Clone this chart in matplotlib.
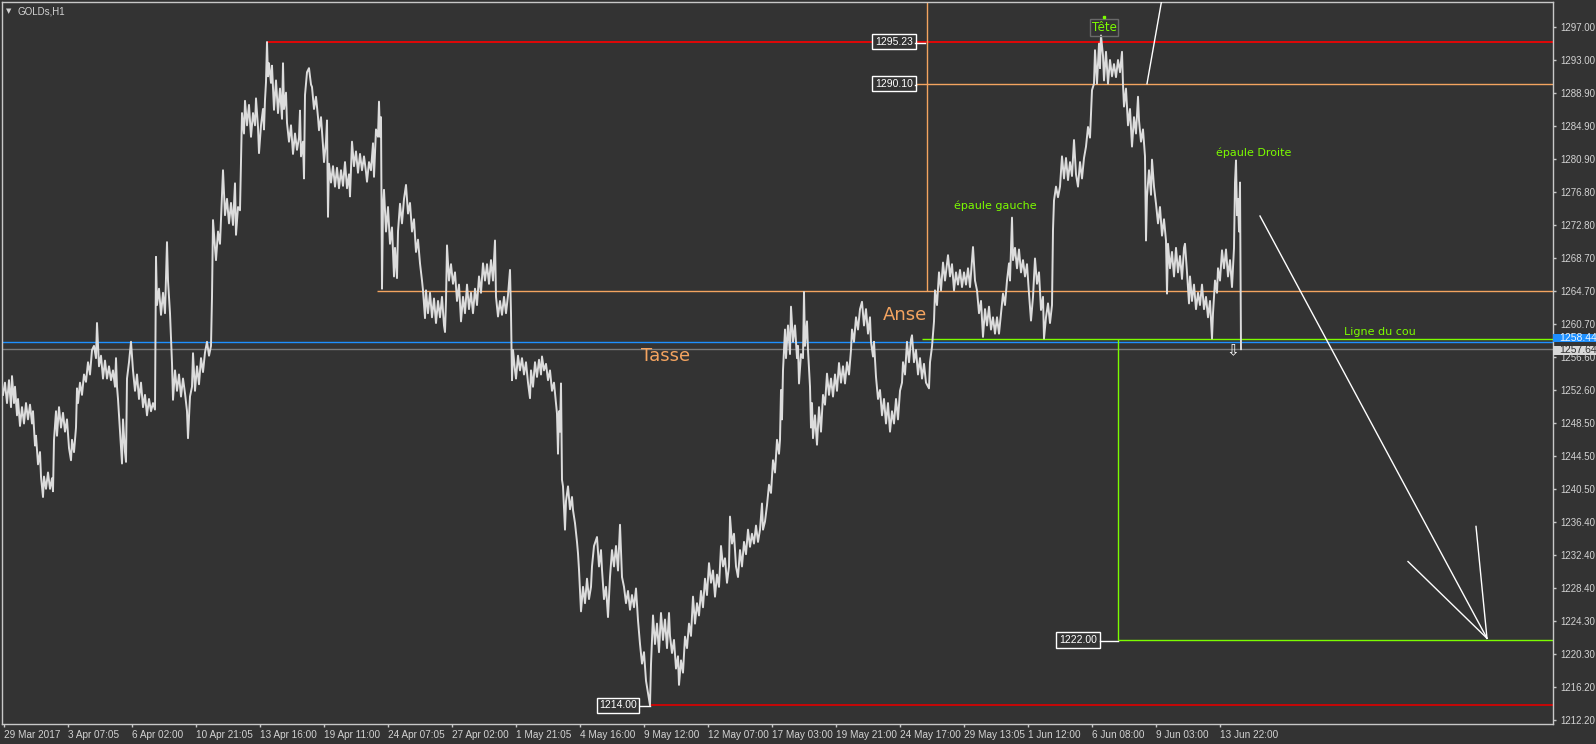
import matplotlib
matplotlib.use('Agg')
from matplotlib import pyplot as plt  # noqa
from matplotlib.patches import Rectangle  # noqa

W, H = 1596, 744
BG = '#333333'
PX_PER_USD = 8.169  # vertical scale of the chart, used only for box sizes

# price path (bar index, price), split by period
path_mar_apr = [
    (3, 1252), (5, 1253.5), (7, 1251), (9, 1253.8), (11, 1250.5), (12, 1254.3), (14, 1251), (15, 1253),
    (17, 1249.5), (18, 1251.5), (20, 1248.2), (22, 1250.5), (24, 1248.5), (26, 1251), (28, 1249),
    (30, 1250.8), (32, 1248.5), (33, 1250), (35, 1245.8), (36, 1247), (38, 1243.5), (40, 1245),
    (41, 1242), (43, 1239.5), (44, 1242), (46, 1240.5), (48, 1242.5), (50, 1240.5), (52, 1241.8),
    (53, 1240.2), (54, 1246.5), (56, 1250), (57, 1247), (59, 1250.5), (61, 1248), (63, 1249.8),
    (65, 1247.5), (67, 1249), (69, 1245.5), (71, 1244), (72, 1246.5), (74, 1245), (76, 1248),
    (77, 1252.8), (78, 1251), (80, 1253.5), (82, 1252), (84, 1254.5), (86, 1253.6), (88, 1256),
    (90, 1254.5), (92, 1257.5), (94, 1258), (96, 1256.5), (97, 1260.8), (99, 1255.5), (101, 1256.8),
    (103, 1254), (105, 1256.2), (107, 1254), (109, 1255.5), (111, 1253.8), (113, 1255), (115, 1253),
    (116, 1256.5), (117, 1253), (118, 1251.5), (120, 1247.5), (122, 1243.6), (123, 1249), (125, 1245),
    (126, 1243.8), (127, 1254), (129, 1256), (131, 1258.5), (133, 1255), (135, 1252.5), (137, 1254.5),
    (139, 1251.5), (141, 1253.5), (143, 1250.5), (145, 1252), (147, 1249.5), (149, 1251.5), (151, 1250),
    (153, 1251), (155, 1250.2), (156, 1268.9), (157, 1263), (159, 1265), (161, 1261.8), (163, 1264.5),
    (165, 1262), (167, 1270.7), (168, 1266), (170, 1262), (172, 1255.9), (173, 1251.4), (175, 1255),
    (177, 1252.5), (179, 1254.5), (181, 1251.8), (183, 1254), (185, 1252.2), (187, 1250), (188, 1246.7),
    (190, 1251.8), (192, 1253), (193, 1257.1), (195, 1252.5), (197, 1255.5), (199, 1253.3), (201, 1256.5),
    (203, 1254.8), (205, 1257.2), (207, 1258.5), (209, 1256.8), (211, 1258), (212, 1264), (213, 1273.4),
    (215, 1270), (216, 1268.5), (218, 1272), (220, 1270.5), (222, 1276.7), (223, 1279.5), (225, 1274),
    (227, 1276), (229, 1273), (231, 1275.5), (233, 1272.8), (235, 1277.9), (236, 1271.6), (238, 1275),
    (240, 1274.6), (242, 1286.5), (244, 1284), (245, 1288), (247, 1285), (249, 1287.5), (251, 1283.6),
    (253, 1286.5), (255, 1285), (256, 1288.3), (258, 1284.8), (259, 1281.6),
]
path_apr = [
    (261, 1285), (263, 1287), (264, 1284.5), (265, 1288.1), (266, 1290.3), (267, 1295.2), (268, 1291),
    (269, 1292.6), (271, 1290.2), (272, 1292.3), (274, 1286.9), (276, 1290.5), (278, 1286.5), (280, 1289.5),
    (282, 1285.8), (283, 1292.6), (284, 1287), (286, 1289), (287, 1285.3), (289, 1283), (291, 1285),
    (293, 1281.5), (295, 1284), (297, 1282), (299, 1283.5), (300, 1286.8), (301, 1281.2), (303, 1283),
    (304, 1278.5), (305, 1288.7), (307, 1291.5), (309, 1292), (311, 1290), (312, 1289.7), (314, 1287),
    (316, 1288.5), (318, 1286), (319, 1284.4), (321, 1286), (323, 1282.5), (324, 1280.5), (326, 1283),
    (327, 1285.6), (328, 1273.8), (329, 1280.3), (331, 1278), (333, 1280), (335, 1277.5), (337, 1279.8),
    (339, 1277.3), (341, 1279.5), (343, 1277.6), (345, 1280.5), (347, 1277.3), (349, 1279), (350, 1276.3),
    (352, 1283), (354, 1280), (356, 1281.8), (358, 1279.2), (360, 1281.5), (362, 1279.5), (364, 1281.2),
    (366, 1279.3), (367, 1278.1), (369, 1280.5), (371, 1279.5), (373, 1282.8), (374, 1278.7), (376, 1284.5),
    (378, 1283.6), (379, 1287.9), (380, 1283.6), (381, 1286), (382, 1265), (383, 1275), (384, 1277.1),
    (386, 1272), (388, 1275), (390, 1270.5), (392, 1272.5), (394, 1266.5), (395, 1270), (397, 1266.3),
    (398, 1272), (400, 1275.4), (402, 1273), (404, 1276), (406, 1277.7), (408, 1274.2), (410, 1275.5),
    (412, 1272), (414, 1273.5), (416, 1269.5), (418, 1271), (420, 1268.1), (422, 1266), (423, 1264.8),
    (425, 1261.4), (426, 1264.8), (428, 1262), (430, 1264.5), (432, 1261.5), (434, 1263.8), (436, 1260.8),
    (438, 1263.5), (440, 1261.5), (442, 1264), (444, 1260.5), (445, 1259.7), (446, 1263.5), (447, 1270.3),
    (449, 1266), (451, 1268), (453, 1265.6), (455, 1267), (457, 1263.5), (459, 1265.5), (461, 1261),
    (463, 1264), (465, 1262), (467, 1265.5), (469, 1262.5), (471, 1264.5), (473, 1262), (475, 1265),
    (477, 1263), (479, 1266.5), (481, 1264.5), (483, 1268.1), (485, 1266), (487, 1268), (489, 1265.6),
    (491, 1268.5), (493, 1266), (495, 1270.9), (496, 1264), (498, 1261.6), (500, 1263.5), (502, 1261.8),
    (504, 1264), (506, 1262), (508, 1264.2),
]
path_may = [
    (510, 1267.3), (511, 1262), (512, 1253.8), (513, 1257.5), (515, 1255), (516, 1254), (518, 1256.8),
    (520, 1255), (522, 1256.5), (524, 1254.5), (526, 1256), (528, 1253.5), (530, 1251.6), (531, 1255),
    (533, 1253), (535, 1256), (537, 1254.2), (539, 1256.3), (541, 1254.5), (542, 1256.7), (544, 1255),
    (546, 1255.8), (548, 1253.8), (550, 1255), (552, 1252.5), (554, 1253.5), (556, 1251), (557, 1249.7),
    (558, 1244.8), (559, 1250), (560, 1247.5), (561, 1253.4), (562, 1241.6), (563, 1240.8), (565, 1235.5),
    (566, 1239), (568, 1240.8), (570, 1238), (572, 1239.5), (573, 1237.9), (575, 1236.3), (577, 1234),
    (578, 1232.6), (579, 1230.6), (581, 1225.5), (583, 1228.5), (585, 1226.5), (587, 1229.5), (589, 1227),
    (591, 1228.5), (592, 1231), (594, 1233.5), (597, 1234.6), (599, 1231), (601, 1233), (602, 1230.6),
    (604, 1227), (606, 1228.5), (608, 1224.8), (610, 1229.7), (612, 1233), (614, 1231), (616, 1233.5),
    (618, 1230.5), (620, 1236.1), (622, 1229.7), (624, 1228.5), (626, 1226.5), (628, 1228), (630, 1225.7),
    (632, 1227.5), (634, 1226), (636, 1228.3), (638, 1224.4), (640, 1221.5), (642, 1219.1), (644, 1220.5),
    (646, 1217), (648, 1215.5), (650, 1214.0), (651, 1219), (653, 1225), (655, 1221.5), (657, 1224),
    (659, 1220.5), (661, 1225.3), (663, 1222), (665, 1224.5), (667, 1221), (669, 1225.3), (670, 1222.5),
    (672, 1220.4), (674, 1222), (676, 1218.5), (678, 1220), (679, 1216.5), (681, 1219.5), (683, 1218),
    (685, 1222.4), (687, 1221), (689, 1224), (691, 1222.5), (693, 1227.3), (695, 1224), (697, 1226.5),
    (699, 1225), (701, 1228), (703, 1226), (705, 1229.5), (707, 1227.5), (709, 1231.4), (711, 1229),
    (713, 1230.5), (715, 1227.3), (717, 1230), (719, 1228.5), (721, 1233.5), (723, 1231), (725, 1232),
    (727, 1229), (729, 1231), (730, 1237.1), (732, 1233.8), (734, 1235), (736, 1231), (738, 1229.7),
    (740, 1233), (742, 1231), (744, 1234), (746, 1232.5), (748, 1235.5), (750, 1233.4), (752, 1235),
    (754, 1233.8), (756, 1236), (758, 1234), (760, 1235.5), (762, 1238.7), (763, 1235.5), (765, 1236.5),
    (767, 1238.5), (769, 1241), (771, 1240), (773, 1244), (775, 1242.5), (777, 1246.5), (779, 1244.8),
    (780, 1246.5), (781, 1252.6), (782, 1249), (783, 1255),
]
path_late_may = [
    (785, 1260), (786, 1256.5), (788, 1260.5), (790, 1257), (791, 1262.8), (793, 1258.5), (795, 1260.5),
    (797, 1256.5), (798, 1258), (799, 1253.4), (801, 1257), (803, 1256.5), (804, 1264.6), (805, 1258),
    (807, 1261), (808, 1257.5), (810, 1253), (811, 1248), (812, 1251), (813, 1246.7), (815, 1249.5),
    (817, 1245.9), (819, 1250.5), (821, 1247.5), (823, 1252), (825, 1250.8), (827, 1254.6), (829, 1252),
    (831, 1254), (833, 1251.8), (835, 1254.5), (837, 1252.5), (839, 1255.9), (841, 1253.5), (843, 1255.5),
    (845, 1253.4), (847, 1256), (849, 1254.5), (851, 1257.5), (852, 1260), (854, 1258.5), (856, 1261.5),
    (858, 1260), (860, 1262.5), (862, 1263.4), (864, 1260.5), (866, 1262.5), (868, 1259.5), (870, 1261.5),
    (871, 1258.5), (873, 1256.7), (874, 1258.5), (876, 1254.2), (878, 1251.5), (880, 1252.6), (882, 1249.5),
    (884, 1251.5), (886, 1248.5), (888, 1251), (890, 1247.5), (892, 1250), (894, 1248.5), (896, 1251.5),
    (898, 1249), (900, 1252.5), (902, 1253.5), (903, 1256), (905, 1254.5), (907, 1258.5), (909, 1256),
    (911, 1258.8), (912, 1259.3), (914, 1256), (916, 1257.5), (918, 1254.5), (920, 1256.5), (922, 1254),
    (924, 1255.8), (926, 1253.5), (929, 1252.8), (930, 1256), (932, 1257.9), (934, 1261), (935, 1264.8),
    (937, 1263), (939, 1267), (941, 1264.8), (943, 1268.2), (945, 1266), (948, 1269.1), (950, 1266.5),
    (952, 1268), (954, 1264.8), (956, 1267), (958, 1265.5), (960, 1267.3), (962, 1265.2), (964, 1267),
    (966, 1265.5), (968, 1267.5), (970, 1265.2), (973, 1270.1), (975, 1266), (977, 1264.8), (979, 1262),
    (981, 1263.5), (983, 1259.1), (985, 1262.5), (987, 1260.5), (989, 1262.8), (991, 1260), (993, 1261.5),
    (995, 1259.5), (997, 1261.5),
]
path_jun = [
    (999, 1259.5), (1001, 1262), (1003, 1264.4), (1005, 1263), (1007, 1266), (1009, 1268.1), (1010, 1266),
    (1012, 1273.7), (1013, 1268.5), (1015, 1270), (1017, 1267.5), (1019, 1269.8), (1021, 1267),
    (1023, 1268.5), (1025, 1266.5), (1027, 1268), (1029, 1264.4), (1031, 1261.1), (1033, 1264),
    (1035, 1268.7), (1037, 1265.6), (1039, 1267), (1041, 1262.4), (1043, 1264), (1044, 1258.9),
    (1046, 1261.5), (1048, 1263.2), (1050, 1260.8), (1052, 1263), (1053, 1272.2), (1054, 1275.8),
    (1056, 1277.5), (1058, 1276.2), (1060, 1277.5), (1062, 1281.2), (1064, 1278.5), (1066, 1281),
    (1068, 1278.3), (1070, 1280.5), (1072, 1278.8), (1074, 1283.2), (1076, 1279), (1078, 1277.5),
    (1080, 1280.5), (1082, 1278.5), (1084, 1281), (1086, 1282.4), (1088, 1284.8), (1090, 1283.5),
    (1092, 1289.3), (1094, 1290.1), (1095, 1294.2), (1097, 1290.1), (1099, 1295), (1100, 1292),
    (1101, 1296.0), (1103, 1293.5), (1104, 1290.5), (1106, 1294), (1108, 1290.1), (1110, 1293),
    (1112, 1291), (1114, 1292.5), (1116, 1290.9), (1118, 1293), (1120, 1291.5), (1122, 1294),
    (1123, 1290), (1124, 1287.3), (1126, 1289.5), (1128, 1285), (1130, 1287), (1132, 1282.4),
    (1134, 1286), (1136, 1284), (1138, 1288.5), (1139, 1285.6), (1141, 1283), (1143, 1284.5),
    (1145, 1281.2), (1146, 1270.9), (1147, 1276.3), (1149, 1279.5), (1151, 1276.5), (1152, 1280.8),
    (1154, 1277.5), (1156, 1275.4), (1158, 1273), (1160, 1275), (1162, 1271.5), (1164, 1273.5),
    (1166, 1270.9), (1167, 1264.4), (1168, 1270.5), (1170, 1267.5), (1172, 1269.5), (1174, 1266.5),
    (1176, 1270), (1178, 1267), (1180, 1269), (1182, 1266.2), (1184, 1270), (1185, 1270.5),
    (1187, 1267), (1189, 1263.2), (1190, 1266.5), (1192, 1263.5), (1194, 1265.5), (1196, 1262.5),
    (1198, 1264.5), (1200, 1263), (1202, 1265.5), (1204, 1262.5), (1206, 1264), (1208, 1261.5),
    (1210, 1263.5), (1212, 1258.9), (1213, 1262), (1215, 1266), (1217, 1264.5), (1218, 1267.5),
    (1220, 1266), (1222, 1269.7), (1224, 1267.5), (1226, 1269.8), (1228, 1266.5), (1230, 1268.5),
    (1232, 1265.2), (1234, 1270), (1235, 1278), (1236, 1280.7), (1237, 1274), (1238, 1276),
    (1239, 1272), (1240, 1278), (1241, 1257.6),
]

x_ticks = [3.5, 67.5, 131.5, 195.5, 259.5, 323.5, 387.5, 451.5, 515.5, 579.5,
           643.5, 707.5, 771.5, 835.5, 899.5, 963.5, 1027.5, 1091.5, 1155.5, 1219.5]
x_labels = ['29 Mar 2017', '3 Apr 07:05', '6 Apr 02:00', '10 Apr 21:05', '13 Apr 16:00',
            '19 Apr 11:00', '24 Apr 07:05', '27 Apr 02:00', '1 May 21:05', '4 May 16:00',
            '9 May 12:00', '12 May 07:00', '17 May 03:00', '19 May 21:00', '24 May 17:00',
            '29 May 13:05', '1 Jun 12:00', '6 Jun 08:00', '9 Jun 03:00', '13 Jun 22:00']
y_ticks = [1297.00, 1293.00, 1288.90, 1284.90, 1280.90, 1276.80, 1272.80, 1268.70, 1264.70,
           1260.70, 1256.60, 1252.60, 1248.50, 1244.50, 1240.50, 1236.40, 1232.40, 1228.40,
           1224.30, 1220.30, 1216.20, 1212.20]

# drawn objects: price levels and where they start (bar index)
high_level, high_start = 1295.23, 267
res_level, res_start = 1290.10, 916
anse_level, anse_start = 1264.70, 377
anse_vline = 927
blue_level = 1258.44
bid_level = 1257.64
neck_level, neck_start = 1258.85, 922
target_level, target_start = 1222.00, 1118
low_level, low_start = 1214.00, 650

trend_up = [(1147, 1290.1), (1163, 1301.2)]
arrow_shaft = [(1260, 1273.9), (1487, 1222.2)]
arrow_left = [(1408, 1231.6), (1487, 1222.2)]
arrow_right = [(1476, 1235.9), (1487, 1222.2)]

ORANGE = '#f4a460'
GREEN = '#7cfc00'
RED = '#ff0000'
BLUE = '#1e90ff'
AXIS = '#c8c8c8'
TXT = '#d2d2d2'
X_END = 1553

fig = plt.figure(figsize=(W / 100, H / 100), dpi=100, facecolor=BG)
ax = fig.add_axes([2 / W, 20 / H, 1551 / W, 722 / H])
ax.set_facecolor(BG)
ax.set_xlim(2, X_END)
ax.set_ylim(1211.71, 1300.10)

path = path_mar_apr + path_apr + path_may + path_late_may + path_jun
ax.plot([p[0] for p in path], [p[1] for p in path], color='#dcdcdc', lw=1.4, zorder=3)


def hline(y, x0, color, lw=1):
    ax.plot([x0, X_END], [y, y], color=color, lw=lw, zorder=2, solid_capstyle='butt')


def vline(x, y0, y1, color):
    ax.plot([x, x], [y0, y1], color=color, lw=1, zorder=2, solid_capstyle='butt')


hline(high_level, high_start, RED, 1.2)
hline(res_level, res_start, ORANGE)
hline(anse_level, anse_start, ORANGE)
vline(anse_vline, anse_level, 1301, ORANGE)
hline(blue_level, 2, BLUE)
hline(bid_level, 2, '#7a7a7a')
hline(neck_level, neck_start, GREEN)
vline(target_start, target_level, neck_level, GREEN)
hline(target_level, target_start, GREEN)
hline(low_level, low_start, '#e00000', 1.2)

for seg in (trend_up, arrow_shaft, arrow_left, arrow_right):
    ax.plot([p[0] for p in seg], [p[1] for p in seg], color='white', lw=1, zorder=4)

# left price labels with their little pointer
box = dict(boxstyle='square,pad=0.25', fc=BG, ec='white', lw=1)
lab_font = dict(family='Liberation Sans', fontsize=7.5, color='white', ha='center', va='center', zorder=5)
for xc, lvl, x0, x1 in ((894, high_level, 915, 925), (894, res_level, 915, 916),
                        (1078, target_level, 1100, target_start), (618, low_level, 640, low_start)):
    ax.text(xc, lvl, '{:.2f}'.format(lvl), bbox=box, **lab_font)
    ax.plot([x0, x1], [lvl - 0.1, lvl - 0.1], color='white', lw=1, zorder=5)

# pattern annotations
ax.text(1104, 1297.0, 'Tête', color=GREEN, fontsize=8.5, ha='center', va='center',
        bbox=dict(boxstyle='square,pad=0.15', fc='none', ec='#6a6a6a', lw=1), zorder=5)
ax.plot([1104], [1298.3], marker='s', ms=2, color=GREEN, zorder=5)
ax.text(995, 1275.2, 'épaule gauche', color=GREEN, fontsize=8, ha='center', va='center')
ax.text(1254, 1281.6, 'épaule Droite', color=GREEN, fontsize=8, ha='center', va='center')
ax.text(1380, 1259.7, 'Ligne du cou', color=GREEN, fontsize=8, ha='center', va='center')
ax.text(905, 1261.8, 'Anse', color=ORANGE, fontsize=13, ha='center', va='center')
ax.text(666, 1256.8, 'Tasse', color=ORANGE, fontsize=13, ha='center', va='center')
ax.text(1233, 1257.4, '⇩', color='white', fontsize=11, ha='center', va='center', zorder=5)

# axes styling
for s in ax.spines.values():
    s.set_color(AXIS)
    s.set_linewidth(1)
ax.yaxis.tick_right()
ax.set_yticks(y_ticks)
ax.set_yticklabels(['{:.2f}'.format(v) for v in y_ticks])
ax.set_xticks(x_ticks)
ax.set_xticklabels(x_labels)
ax.tick_params(axis='both', colors=AXIS, labelcolor=TXT, labelsize=7, length=2.5, width=1)
ax.tick_params(axis='y', pad=2.5)
ax.tick_params(axis='x', pad=1.5, labelsize=7.2)
for lbl in ax.get_xticklabels() + ax.get_yticklabels():
    lbl.set_family('Liberation Sans')
for lbl in ax.get_xticklabels():
    lbl.set_ha('left')

# current price boxes on the price scale
tr = ax.get_yaxis_transform()
hb = 8.6 / PX_PER_USD
ax.add_patch(Rectangle((1.0, blue_level + 0.55 - hb / 2), 0.03, hb, transform=tr,
                       fc=BLUE, ec='none', clip_on=False, zorder=6))
ax.add_patch(Rectangle((1.0, bid_level - 0.2 - hb / 2), 0.03, hb, transform=tr,
                       fc='#d8d8d8', ec='none', clip_on=False, zorder=7))
ax.text(1.0 + 6 / 1551, blue_level + 0.55, '1258.44', transform=tr, family='Liberation Sans',
        fontsize=7.5, color='#e8f4ff', va='center', ha='left', clip_on=False, zorder=6)
ax.text(1.0 + 6 / 1551, bid_level - 0.2, '1257.64', transform=tr, family='Liberation Sans',
        fontsize=7.5, color='#333333', va='center', ha='left', clip_on=False, zorder=8)

fig.text(9 / W, 1 - 11 / H, '▼', color=TXT, fontsize=5, va='center', ha='center')
fig.text(17 / W, 1 - 11 / H, 'GOLDs,H1', color=TXT, fontsize=7, va='center', ha='left',
         family='Liberation Sans')

fig.savefig('out.png', dpi=100, facecolor=BG)
